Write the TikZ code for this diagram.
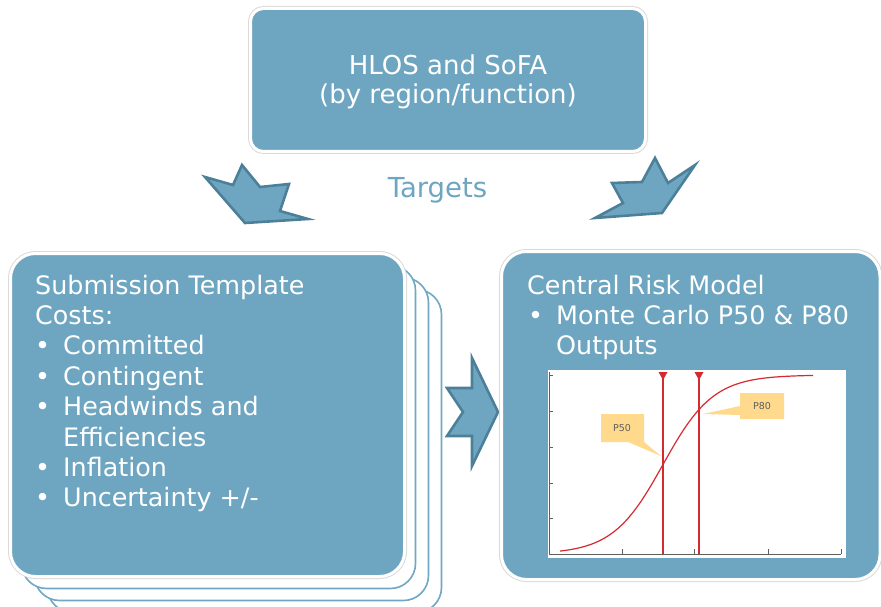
\documentclass[tikz,border=0pt]{standalone}
\usepackage{fontspec}
\setmainfont{DejaVu Sans}
\definecolor{boxblue}{RGB}{110,166,193}
\definecolor{arrowedge}{RGB}{76,128,152}
\definecolor{copyblue}{RGB}{112,168,196}
\definecolor{halo}{RGB}{218,218,218}
\definecolor{chartred}{RGB}{214,42,48}
\definecolor{calloutfill}{RGB}{255,217,140}
\definecolor{axisgrey}{RGB}{95,95,95}
\begin{document}
\begin{tikzpicture}[x=1pt,y=-1pt,
  mainbox/.style={fill=boxblue, draw=white, line width=3pt, preaction={draw=halo, line width=5pt}},
  copybox/.style={fill=white, draw=copyblue, line width=1.6pt},
  chevron/.style={fill=boxblue, draw=arrowedge, line width=2.6pt, line join=miter},
  txt/.style={text=white, font=\fontsize{25.4}{30}\selectfont, inner sep=0pt, anchor=base west},
  ctxt/.style={txt, anchor=base, font=\fontsize{26}{30}\selectfont},
  calltxt/.style={text=axisgrey, font=\fontsize{9.5}{11}\selectfont, inner sep=0pt},
  callout/.style={fill=calloutfill, draw=none},
  axisline/.style={draw=axisgrey, line width=0.8pt},
  redline/.style={draw=chartred, line width=1.4pt}]
\useasboundingbox (0,0) rectangle (881,607);
\clip (0,0) rectangle (881,607);

% top box
\draw[mainbox, rounded corners=13pt] (250.5,8.5) rectangle (645.5,151.5);
\node[ctxt] (h1) at (448,75) {HLOS and SoFA};
\node[ctxt] (h2) at (448,104) {(by region/function)};

% targets label
\node[ctxt, text=boxblue, font=\fontsize{27.5}{30}\selectfont] (tg) at (437.5,197) {Targets};

% chevrons
\draw[chevron] (205,177) -- (233,185) -- (242,165) -- (260,187) -- (289,184) -- (280,211) -- (308,219) -- (245,223) -- cycle;
\draw[chevron] (695,165) -- (668,183) -- (655,158) -- (642,182) -- (612,183) -- (623,203) -- (595,218) -- (662,213) -- cycle;
\draw[chevron] (447,388) -- (472,388) -- (472,358) -- (498,412) -- (472,466) -- (472,436) -- (447,436) -- (463,412) -- cycle;

% stacked left boxes
\draw[copybox, rounded corners=25pt] (10.5+37,253.5+36) rectangle (404.5+37,576.5+36);
\draw[copybox, rounded corners=25pt] (10.5+24,253.5+24) rectangle (404.5+24,576.5+24);
\draw[copybox, rounded corners=25pt] (10.5+11,253.5+12) rectangle (404.5+11,576.5+12);
\draw[mainbox, rounded corners=25pt] (10.5,253.5) rectangle (404.5,576.5);

\node[txt] (s1) at (35,294) {Submission Template};
\node[txt] (s2) at (35,324.4) {Costs:};
\node[txt] (b1) at (35,354.8) {•};
\node[txt] (s3) at (63,354.8) {Committed};
\node[txt] (b2) at (35,385.2) {•};
\node[txt] (s4) at (63,385.2) {Contingent};
\node[txt] (b3) at (35,415.6) {•};
\node[txt] (s5) at (63,415.6) {Headwinds and};
\node[txt] (s6) at (63,446) {Efficiencies};
\node[txt] (b4) at (35,476.4) {•};
\node[txt] (s7) at (63,476.4) {Inflation};
\node[txt] (b5) at (35,506.8) {•};
\node[txt] (s8) at (63,506.8) {Uncertainty +/-};

% right box
\draw[mainbox, rounded corners=25pt] (501.5,251.5) rectangle (880,579.5);
\node[txt] (r1) at (527,294) {Central Risk Model};
\node[txt] (rb) at (528,324.4) {•};
\node[txt] (r2) at (556,324.4) {Monte Carlo P50 \& P80};
\node[txt] (r3) at (556,354.8) {Outputs};

% chart
\fill[white] (548,370) rectangle (846,558);
\draw[axisline] (549,372) -- (549,554) -- (841,554);
\foreach \yy in {375,411,447,483,518} \draw[axisline] (549,\yy) -- (553,\yy);
\foreach \xx in {622,694,768,841} \draw[axisline] (\xx,554) -- (\xx,549);
\draw[chartred, line width=1.2pt, domain=560:813, samples=120, smooth]
  plot (\x, {554-179/(1+exp(-0.03977*(\x-663)))});
\draw[redline] (663,374) -- (663,554);
\draw[redline] (699,374) -- (699,554);
\fill[chartred] (658.5,372) -- (667.5,372) -- (663,380) -- cycle;
\fill[chartred] (694.5,372) -- (703.5,372) -- (699,380) -- cycle;

% callouts
\fill[callout] (601,414) -- (644,414) -- (644,442) -- (661,456) -- (628,442) -- (601,442) -- cycle;
\node[calltxt] (p50) at (622,428) {P50};
\fill[callout] (740,393) -- (784,393) -- (784,419) -- (740,419) -- (740,415) -- (703,414) -- (740,406) -- cycle;
\node[calltxt] (p80) at (762,406) {P80};
\end{tikzpicture}
\end{document}
